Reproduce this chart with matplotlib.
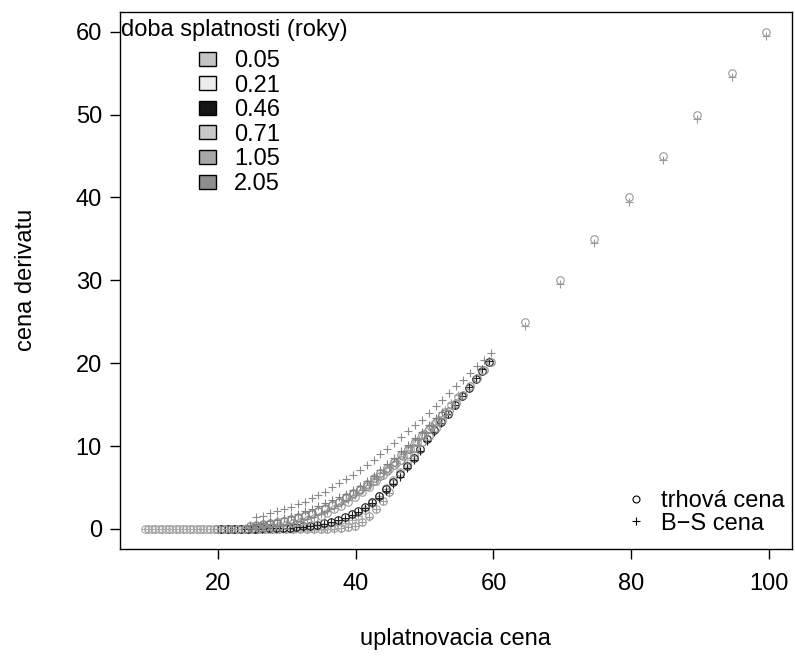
import matplotlib
matplotlib.use('Agg')
import matplotlib.pyplot as plt
from matplotlib.patches import Patch
from matplotlib.lines import Line2D

plt.rcParams['font.family'] = ['Liberation Sans', 'DejaVu Sans']

# ---------------- data ----------------
maturities = ['0.05', '0.21', '0.46', '0.71', '1.05', '2.05']
legend_title = 'doba splatnosti (roky)'
price_labels = ['trhová cena', 'B\u2212S cena']

K_005 = [9.9, 10.9, 11.9, 12.9, 13.9, 14.9, 15.9, 16.9, 17.9, 18.9, 19.9, 20.9, 21.9, 22.9, 23.9,
         24.9, 25.9, 26.9, 27.9, 28.9, 29.9, 30.9, 31.9, 32.9, 33.9, 34.9, 35.9, 36.9, 37.9, 38.9,
         39.9, 40.9, 41.9, 42.9, 43.9, 44.9,
         64.6, 69.6, 74.6, 79.6, 84.6, 89.6, 94.6, 99.6]
mkt_005 = [0, 0, 0, 0, 0, 0, 0, 0, 0, 0, 0, 0, 0, 0, 0,
           0, 0, 0, 0, 0, 0, 0, 0, 0, 0, 0, 0.02, 0.05, 0.1, 0.2,
           0.4, 0.8, 1.5, 2.4, 3.4, 4.4,
           25.0, 30.0, 35.0, 40.0, 45.0, 50.0, 55.0, 60.0]
bs_005 = [0, 0, 0, 0, 0, 0, 0, 0, 0, 0, 0, 0, 0, 0, 0,
          0, 0, 0, 0, 0, 0, 0, 0, 0, 0, 0, 0.01, 0.03, 0.08, 0.18,
          0.38, 0.78, 1.45, 2.35, 3.35, 4.35,
          24.5, 29.5, 34.5, 39.5, 44.5, 49.5, 54.5, 59.5]

K_021 = [9.4, 10.4, 11.4, 12.4, 13.4, 14.4, 15.4, 16.4, 17.4, 18.4, 19.4, 20.4, 21.4, 22.4, 23.4,
         24.4, 25.4, 26.4, 27.4, 28.4, 29.4, 30.4, 31.4, 32.4, 33.4, 34.4, 35.4, 36.4, 37.4, 38.4,
         39.4, 40.4, 41.4, 42.4, 43.4, 44.4, 45.4, 46.4, 47.4, 48.4]
mkt_021 = [0, 0, 0, 0, 0, 0, 0, 0, 0, 0, 0, 0, 0, 0, 0,
           0.01, 0.01, 0.02, 0.03, 0.04, 0.05, 0.06, 0.08, 0.1, 0.13, 0.18, 0.25, 0.35, 0.5, 0.75,
           1.1, 1.6, 2.3, 3.1, 4.0, 4.9, 5.9, 6.9, 7.9, 8.9]
bs_021 = [0, 0, 0, 0, 0, 0, 0, 0, 0, 0, 0, 0, 0, 0, 0,
          0, 0, 0, 0.01, 0.01, 0.02, 0.03, 0.04, 0.06, 0.09, 0.14, 0.21, 0.31, 0.46, 0.7,
          1.05, 1.55, 2.25, 3.05, 3.95, 4.85, 5.85, 6.85, 7.85, 8.85]

K_046 = [20.4, 21.4, 22.4, 23.4, 24.4, 25.4, 26.4, 27.4, 28.4, 29.4, 30.4, 31.4, 32.4, 33.4,
         34.4, 35.4, 36.4, 37.4, 38.4, 39.4, 40.4, 41.4, 42.4, 43.4, 44.4, 45.4, 46.4, 47.4,
         48.4, 49.4, 50.4, 51.4, 52.4, 53.4, 54.4, 55.4, 56.4, 57.4, 58.4, 59.4]
mkt_046 = [0.01, 0.01, 0.02, 0.02, 0.03, 0.04, 0.05, 0.06, 0.08, 0.1, 0.15, 0.2, 0.3, 0.4,
           0.5, 0.65, 0.85, 1.1, 1.4, 1.8, 2.2, 2.7, 3.3, 4.0, 4.8, 5.7, 6.6, 7.6,
           8.6, 9.7, 10.8, 11.9, 12.9, 13.9, 15.0, 16.0, 17.0, 18.1, 19.1, 20.1]
bs_046 = [0, 0, 0.01, 0.01, 0.02, 0.03, 0.04, 0.05, 0.07, 0.09, 0.13, 0.18, 0.26, 0.35,
          0.46, 0.6, 0.79, 1.02, 1.31, 1.66, 2.08, 2.56, 3.12, 3.78, 4.55, 5.4, 6.3, 7.3,
          8.35, 9.45, 10.55, 11.7, 12.8, 13.9, 15.0, 16.05, 17.1, 18.2, 19.25, 20.3]

K_071 = [19.9, 20.9, 21.9, 22.9, 23.9, 24.9, 25.9, 26.9, 27.9, 28.9, 29.9, 30.9, 31.9, 32.9, 33.9,
         34.9, 35.9, 36.9, 37.9, 38.9, 39.9, 40.9, 41.9, 42.9, 43.9, 44.9, 45.9, 46.9, 47.9, 48.9,
         49.9, 50.9, 51.9, 52.9, 53.9, 54.9]
mkt_071 = [0, 0, 0.01, 0.02, 0.04, 0.07, 0.12, 0.18, 0.25, 0.35, 0.5, 0.65, 0.85, 1.05, 1.3,
           1.6, 1.95, 2.35, 2.8, 3.3, 3.85, 4.45, 5.1, 5.8, 6.5, 7.2, 7.95, 8.75, 9.6, 10.5,
           11.4, 12.3, 13.2, 14.1, 15.0, 15.9]
bs_071 = [0, 0.01, 0.02, 0.03, 0.05, 0.09, 0.14, 0.21, 0.3, 0.42, 0.57, 0.75, 0.96, 1.2, 1.47,
          1.78, 2.14, 2.55, 3.0, 3.5, 4.05, 4.65, 5.3, 6.0, 6.7, 7.45, 8.2, 9.0, 9.85, 10.7,
          11.6, 12.5, 13.4, 14.3, 15.2, 16.1]

K_105 = [24.6, 25.6, 26.6, 27.6, 28.6, 29.6, 30.6, 31.6, 32.6, 33.6, 34.6, 35.6, 36.6, 37.6, 38.6,
         39.6, 40.6, 41.6, 42.6, 43.6, 44.6, 45.6, 46.6, 47.6, 48.6, 49.6, 50.6, 51.6, 52.6]
mkt_105 = [0.3, 0.4, 0.5, 0.6, 0.75, 0.9, 1.1, 1.3, 1.55, 1.8, 2.1, 2.45, 2.85, 3.3, 3.8,
           4.3, 4.85, 5.45, 6.1, 6.7, 7.3, 8.1, 8.9, 9.7, 10.5, 11.3, 12.1, 12.9, 13.7]
bs_105 = [0.5, 0.6, 0.75, 0.9, 1.1, 1.3, 1.55, 1.8, 2.1, 2.4, 2.75, 3.1, 3.5, 3.85, 4.25,
          4.7, 5.2, 5.8, 6.4, 7.1, 7.8, 8.55, 9.35, 10.15, 10.95, 11.75, 12.55, 13.35, 14.15]

K_205 = [25.6, 26.6, 27.6, 28.6, 29.6, 30.6, 31.6, 32.6, 33.6, 34.6, 35.6, 36.6, 37.6, 38.6, 39.6,
         40.6, 41.6, 42.6, 43.6, 44.6, 45.6, 46.6, 47.6, 48.6, 49.6, 50.6, 51.6, 52.6, 53.6, 54.6,
         55.6, 56.6, 57.6, 58.6, 59.6]
mkt_205 = [0.5, 0.6, 0.7, 0.85, 1.0, 1.2, 1.4, 1.65, 1.9, 2.2, 2.5, 2.9, 3.3, 3.75, 4.2,
           4.7, 5.2, 5.75, 6.35, 7.0, 7.65, 8.35, 9.05, 9.8, 10.5, 11.2, 12.2, 13.2, 14.2, 15.2,
           16.2, 17.2, 18.2, 19.2, 20.2]
bs_205 = [1.4, 1.6, 1.9, 2.1, 2.4, 2.7, 3.0, 3.3, 3.7, 4.1, 4.5, 5.0, 5.5, 6.0, 6.5,
          7.1, 7.7, 8.3, 9.0, 9.7, 10.4, 11.1, 11.8, 12.5, 13.2, 14.0, 14.8, 15.6, 16.4, 17.2,
          18.0, 18.8, 19.6, 20.4, 21.2]

x_ticks = [20, 40, 60, 80, 100]
y_ticks = [0, 10, 20, 30, 40, 50, 60]

# ---------------- styling ----------------
FS = 17
point_colors = ['#999999', '#ababab', '#1e1e1e', '#9a9a9a', '#808080', '#8a8a8a']
legend_fills = ['#c4c4c4', '#ececec', '#151515', '#c8c8c8', '#a8a8a8', '#8e8e8e']

groups = [(K_005, mkt_005, bs_005), (K_021, mkt_021, bs_021), (K_046, mkt_046, bs_046),
          (K_071, mkt_071, bs_071), (K_105, mkt_105, bs_105), (K_205, mkt_205, bs_205)]

fig = plt.figure(figsize=(7.95, 6.58), dpi=100)
ax = fig.add_axes([0.151, 0.166, 0.845, 0.816])

for (k, m, b), c in zip(groups, point_colors):
    ax.plot(k, m, linestyle='none', marker='o', ms=5.4, mfc='none', mec=c, mew=0.8)
    ax.plot(k, b, linestyle='none', marker='+', ms=5.8, mec=c, mew=0.8)

ax.set_xlim(5.8, 103.3)
ax.set_ylim(-2.4, 62.4)
ax.set_xticks(x_ticks)
ax.set_yticks(y_ticks)
ax.tick_params(direction='out', length=7, width=1, labelsize=FS, colors='black')
ax.tick_params(axis='x', pad=10.5)
ax.tick_params(axis='y', pad=6)
for s in ax.spines.values():
    s.set_linewidth(1.0)
    s.set_color('black')

ax.set_xlabel('uplatnovacia cena', fontsize=FS, labelpad=24)
ax.set_ylabel('cena derivatu', fontsize=FS, labelpad=28)

# maturity legend: title as a text, entries centred under it
ax.text(0.001, 0.9665, legend_title, transform=ax.transAxes, fontsize=FS,
        ha='left', va='center')
handles = [Patch(facecolor=f, edgecolor='black', linewidth=1.0) for f in legend_fills]
leg1 = ax.legend(handles, maturities, loc='upper left', bbox_to_anchor=(0.117, 0.929),
                 frameon=False, fontsize=FS, handlelength=0.75, handleheight=0.54,
                 handletextpad=0.75, labelspacing=0.11, borderpad=0.0, borderaxespad=0.0)
ax.add_artist(leg1)

h2 = [Line2D([], [], linestyle='none', marker='o', ms=5.0, mfc='none', mec='black', mew=0.8),
      Line2D([], [], linestyle='none', marker='+', ms=5.5, mec='black', mew=0.8)]
ax.legend(h2, price_labels, loc='lower right', bbox_to_anchor=(1.01, 0.0), frameon=False,
          fontsize=FS, handlelength=0.6, handletextpad=0.75, labelspacing=0.03,
          borderpad=0.6, borderaxespad=0.0)

fig.savefig('out.png', dpi=100)
